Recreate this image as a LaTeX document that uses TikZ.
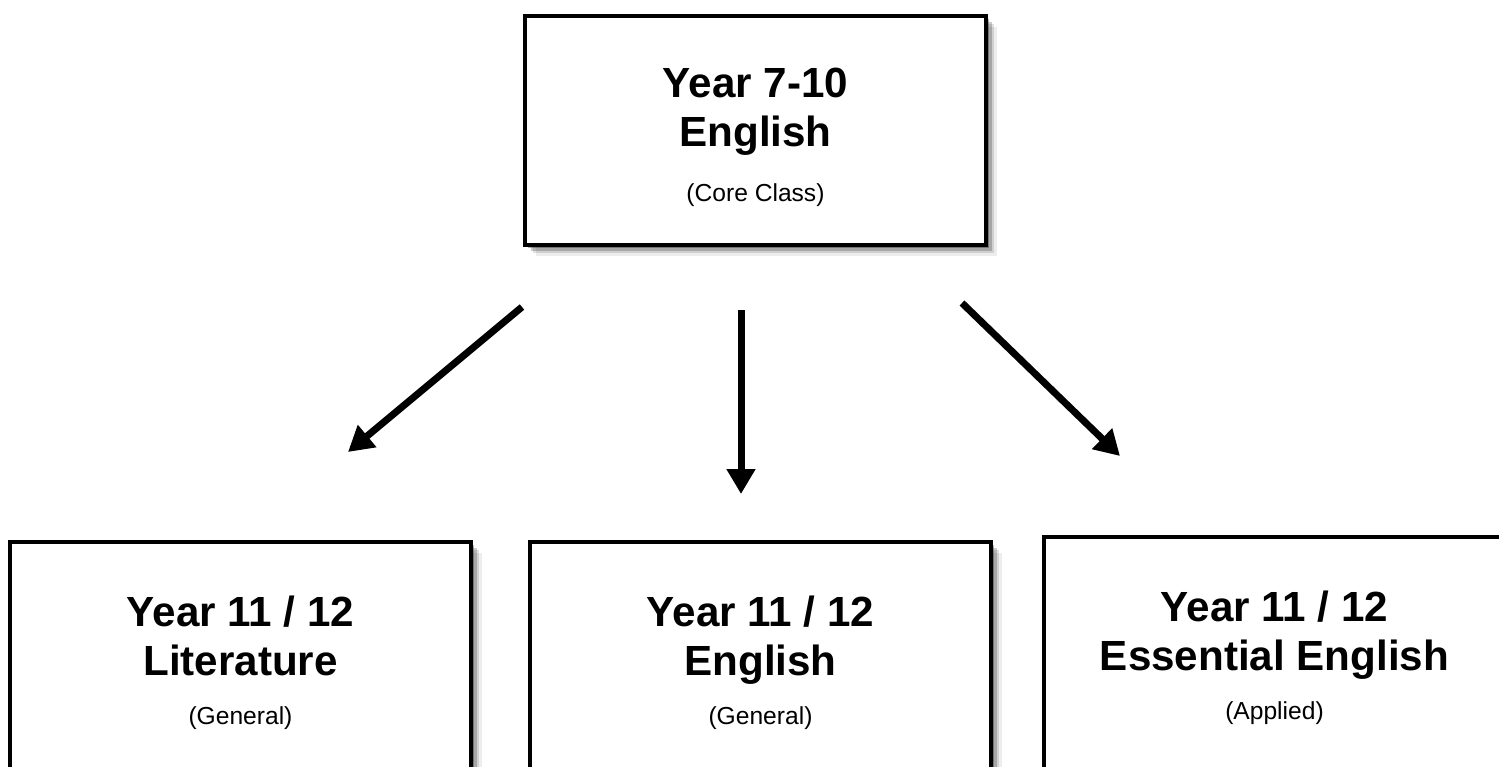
\documentclass[tikz,border=0pt]{standalone}
\usepackage{fontspec}
\setmainfont{Liberation Sans}
\usetikzlibrary{arrows.meta,shadows}

\tikzset{
  softshadow/.style={
    drop shadow={shadow xshift=0.06cm, shadow yshift=-0.06cm, fill=black, opacity=.3},
    drop shadow={shadow xshift=0.11cm, shadow yshift=-0.11cm, fill=black, opacity=.2},
    drop shadow={shadow xshift=0.16cm, shadow yshift=-0.16cm, fill=black, opacity=.12},
    drop shadow={shadow xshift=0.22cm, shadow yshift=-0.22cm, fill=black, opacity=.07}},
  yearbox/.style={draw, line width=0.08cm, fill=white, align=center,
    minimum width=9.22cm, font=\fontsize{24}{28}\selectfont\bfseries, softshadow},
  pathway/.style={line width=0.14cm, -{Triangle[length=0.5cm,width=0.55cm]}}
}
\newcommand{\coursetype}[1]{{\fontsize{14}{16}\selectfont\mdseries #1}}

\begin{document}
\begin{tikzpicture}

\useasboundingbox (0,0) rectangle (29.98,-15.32);
\clip (0,0) rectangle (29.98,-15.32);

%core
\node[yearbox, minimum height=4.58cm] (core) at (15.11,-2.61)
  {\rule{0pt}{0.85cm}Year 7-10\\English\\[0.12cm]\coursetype{(Core Class)}};

%senior
\node[yearbox, minimum height=4.82cm] (lit) at (4.81,-13.25)
  {Year 11 / 12\\Literature\\\coursetype{(General)}};
\node[yearbox, minimum height=4.82cm] (eng) at (15.21,-13.25)
  {Year 11 / 12\\English\\\coursetype{(General)}};
\node[yearbox, minimum height=4.82cm] (ess) at (25.49,-13.15)
  {Year 11 / 12\\Essential English\\\coursetype{(Applied)}};

% arrow ends
\coordinate (litfrom) at (10.44,-6.14);
\coordinate (litto) at (6.96,-9.04);
\coordinate (engfrom) at (14.82,-6.20);
\coordinate (engto) at (14.82,-9.88);
\coordinate (essfrom) at (19.24,-6.06);
\coordinate (essto) at (22.40,-9.12);

% arrows
\draw[pathway] (litfrom) -- (litto);
\draw[pathway] (engfrom) -- (engto);
\draw[pathway] (essfrom) -- (essto);

\end{tikzpicture}
\end{document}
